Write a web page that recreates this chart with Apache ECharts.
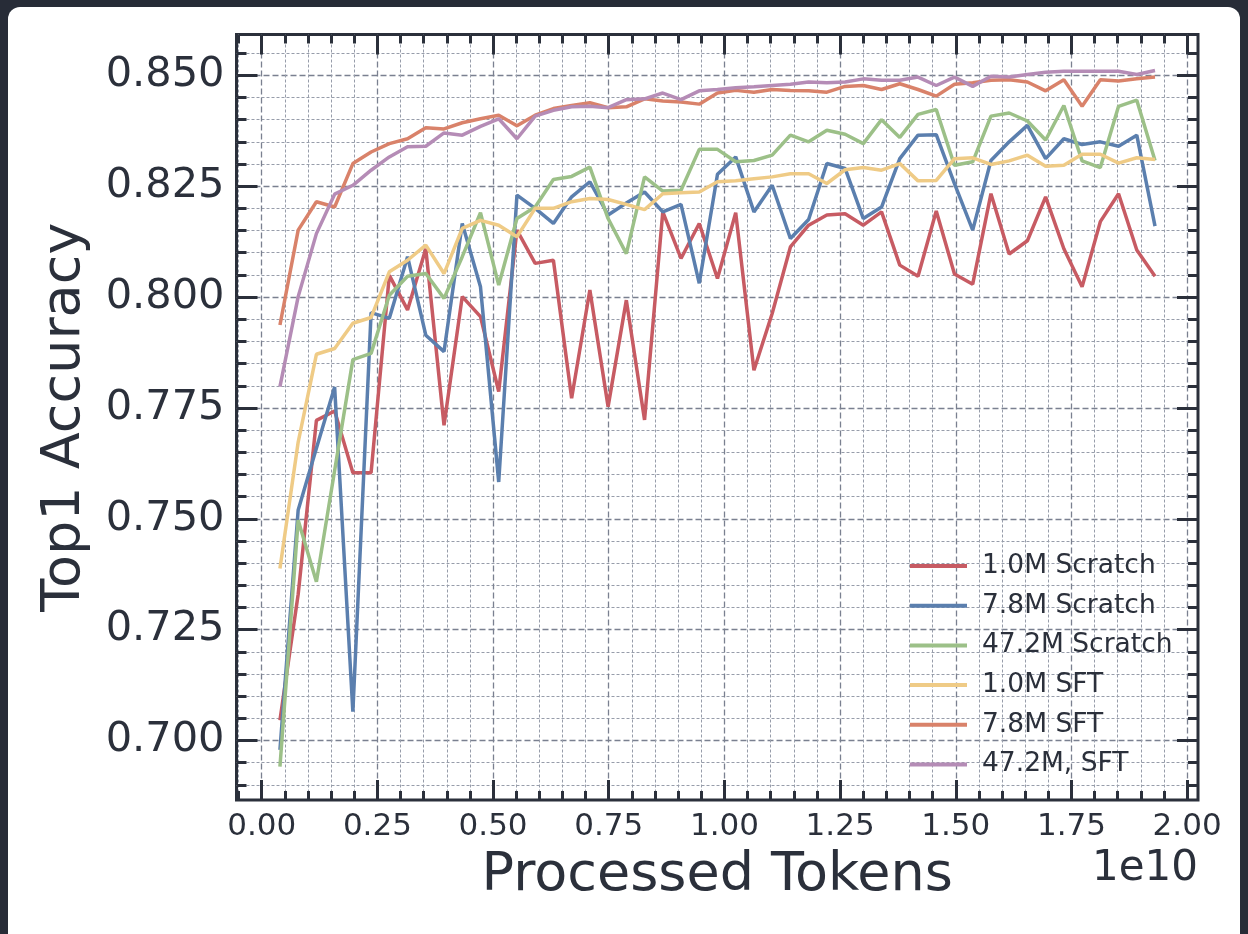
<!DOCTYPE html>
<html>
<head>
<meta charset="utf-8">
<script src="https://cdn.jsdelivr.net/npm/echarts@6/dist/echarts.min.js"></script>
<style>
  html, body { margin: 0; padding: 0; width: 1248px; height: 934px; overflow: hidden; background: #272c37; }
  #card { position: absolute; left: 8px; top: 7px; right: 8px; bottom: -20px; background: #ffffff; border-radius: 12px; }
  #chart { position: absolute; left: 0; top: 0; width: 1248px; height: 934px; }
</style>
</head>
<body>
<div id="card"></div>
<div id="chart"></div>
<script>
// Processed tokens (units of 1e10)
const tokens = [0.0394,0.0788,0.1182,0.1576,0.1970,0.2364,0.2758,0.3152,0.3546,0.3940,
  0.4334,0.4728,0.5122,0.5516,0.5910,0.6304,0.6698,0.7092,0.7486,0.7880,
  0.8274,0.8668,0.9062,0.9456,0.9850,1.0244,1.0638,1.1032,1.1426,1.1820,
  1.2214,1.2608,1.3002,1.3396,1.3790,1.4184,1.4578,1.4972,1.5366,1.5760,
  1.6154,1.6548,1.6942,1.7336,1.7730,1.8124,1.8518,1.8912,1.9306];

const scratch1M = [0.7046,0.7330,0.7722,0.7743,0.7604,0.7604,0.8049,0.7971,0.8109,0.7711,
  0.8001,0.7956,0.7787,0.8151,0.8076,0.8083,0.7772,0.8016,0.7753,0.7993,
  0.7723,0.8192,0.8087,0.8166,0.8042,0.8190,0.7835,0.7963,0.8113,0.8162,
  0.8185,0.8188,0.8162,0.8192,0.8072,0.8047,0.8194,0.8052,0.8029,0.8233,
  0.8097,0.8127,0.8226,0.8109,0.8023,0.8170,0.8233,0.8106,0.8047];

const scratch7M = [0.6979,0.7520,0.7659,0.7797,0.7065,0.7965,0.7952,0.8091,0.7914,0.7877,
  0.8166,0.8023,0.7583,0.8230,0.8200,0.8166,0.8226,0.8260,0.8185,0.8212,
  0.8237,0.8192,0.8209,0.8031,0.8277,0.8316,0.8192,0.8252,0.8132,0.8175,
  0.8301,0.8290,0.8177,0.8203,0.8312,0.8365,0.8366,0.8256,0.8151,0.8308,
  0.8350,0.8387,0.8312,0.8357,0.8344,0.8350,0.8340,0.8365,0.8160];

const scratch47M = [0.6941,0.7497,0.7358,0.7609,0.7859,0.7873,0.8004,0.8047,0.8053,0.7997,
  0.8091,0.8190,0.8027,0.8177,0.8203,0.8265,0.8272,0.8293,0.8177,0.8098,
  0.8271,0.8239,0.8241,0.8333,0.8333,0.8305,0.8308,0.8320,0.8365,0.8350,
  0.8376,0.8367,0.8346,0.8400,0.8360,0.8412,0.8423,0.8297,0.8305,0.8408,
  0.8415,0.8397,0.8354,0.8432,0.8307,0.8292,0.8430,0.8444,0.8308];

const sft1M = [0.7388,0.7673,0.7871,0.7884,0.7941,0.7954,0.8057,0.8083,0.8117,0.8053,
  0.8155,0.8173,0.8162,0.8136,0.8200,0.8200,0.8215,0.8222,0.8220,0.8209,
  0.8197,0.8233,0.8235,0.8237,0.8260,0.8262,0.8267,0.8271,0.8278,0.8278,
  0.8256,0.8287,0.8292,0.8286,0.8301,0.8262,0.8263,0.8312,0.8314,0.8299,
  0.8307,0.8320,0.8295,0.8297,0.8322,0.8322,0.8302,0.8314,0.8310];

const sft7M = [0.7937,0.8151,0.8215,0.8203,0.8301,0.8327,0.8346,0.8357,0.8382,0.8379,
  0.8393,0.8402,0.8410,0.8386,0.8410,0.8425,0.8432,0.8438,0.8427,0.8429,
  0.8447,0.8442,0.8440,0.8435,0.8460,0.8466,0.8462,0.8468,0.8466,0.8465,
  0.8462,0.8475,0.8477,0.8468,0.8481,0.8468,0.8453,0.8480,0.8483,0.8489,
  0.8490,0.8485,0.8465,0.8490,0.8430,0.8490,0.8487,0.8492,0.8496];

const sft47M = [0.7798,0.8001,0.8143,0.8232,0.8252,0.8286,0.8316,0.8339,0.8340,0.8370,
  0.8365,0.8385,0.8402,0.8357,0.8408,0.8421,0.8429,0.8430,0.8427,0.8445,
  0.8447,0.8460,0.8445,0.8465,0.8468,0.8472,0.8474,0.8477,0.8480,0.8485,
  0.8483,0.8485,0.8492,0.8489,0.8489,0.8496,0.8477,0.8496,0.8475,0.8498,
  0.8496,0.8502,0.8507,0.8509,0.8509,0.8509,0.8509,0.8502,0.8511];

const seriesNames = ['1.0M Scratch','7.8M Scratch','47.2M Scratch','1.0M SFT','7.8M SFT','47.2M, SFT'];
const seriesValues = [scratch1M, scratch7M, scratch47M, sft1M, sft7M, sft47M];
const seriesColors = ['#c75b63','#5b7fae','#9cc088','#efcb86','#d9826a','#b58cb6'];

const xMajorTicks = [0, 0.25, 0.5, 0.75, 1.0, 1.25, 1.5, 1.75, 2.0];
const xMinorTicks = [-0.05,0.05,0.1,0.15,0.2,0.3,0.35,0.4,0.45,0.55,0.6,0.65,0.7,0.8,0.85,0.9,0.95,
  1.05,1.1,1.15,1.2,1.3,1.35,1.4,1.45,1.55,1.6,1.65,1.7,1.8,1.85,1.9,1.95];
const yMajorTicks = [0.700, 0.725, 0.750, 0.775, 0.800, 0.825, 0.850];
const yMinorTicks = [0.690,0.695,0.705,0.710,0.715,0.720,0.730,0.735,0.740,0.745,0.755,0.760,0.765,0.770,
  0.780,0.785,0.790,0.795,0.805,0.810,0.815,0.820,0.830,0.835,0.840,0.845,0.855];

const X_MIN = -0.0545, X_MAX = 2.0235, Y_MIN = 0.6866, Y_MAX = 0.8592;
const DARK = '#2b303b';
const FONT = 'DejaVu Sans';
const majorGrid = { show: true, lineStyle: { color: '#7a8090', width: 1.3, type: [6, 3] } };
const minorGrid = { show: true, lineStyle: { color: '#979daa', width: 1, type: [3, 2] } };

function xAxisDef(pos, ticks, len, labels, split) {
  return {
    type: 'value', position: pos, min: X_MIN, max: X_MAX,
    axisLine: { show: false, onZero: false },
    axisTick: { show: true, inside: true, length: len, customValues: ticks, lineStyle: { color: DARK, width: 3 } },
    axisLabel: labels ? { show: true, customValues: ticks, margin: 11, fontFamily: FONT, fontSize: 31, color: DARK,
      formatter: v => v.toFixed(2) } : { show: false },
    splitLine: split || { show: false },
    name: labels ? 'Processed Tokens' : '',
    nameLocation: 'middle', nameGap: 49,
    nameTextStyle: { fontFamily: FONT, fontSize: 54, color: DARK }
  };
}
function yAxisDef(pos, ticks, len, labels, split) {
  return {
    type: 'value', position: pos, min: Y_MIN, max: Y_MAX,
    axisLine: { show: false, onZero: false },
    axisTick: { show: true, inside: true, length: len, customValues: ticks, lineStyle: { color: DARK, width: 3 } },
    axisLabel: labels ? { show: true, customValues: ticks, margin: 12, fontFamily: FONT, fontSize: 41.5, color: DARK,
      formatter: v => v.toFixed(3) } : { show: false },
    splitLine: split || { show: false },
    name: labels ? 'Top1 Accuracy' : '',
    nameLocation: 'middle', nameGap: 145, nameRotate: 90,
    nameTextStyle: { fontFamily: FONT, fontSize: 54, color: DARK }
  };
}

const chart = echarts.init(document.getElementById('chart'), null, { renderer: 'canvas' });
chart.setOption({
  animation: false,
  backgroundColor: 'transparent',
  grid: { left: 236.5, right: 50, top: 34.5, bottom: 134, show: true, borderColor: DARK, borderWidth: 3, backgroundColor: 'transparent' },
  xAxis: [
    xAxisDef('bottom', xMajorTicks, 20, true, majorGrid),
    xAxisDef('bottom', xMinorTicks, 9, false, minorGrid),
    xAxisDef('top', xMajorTicks, 20, false, null),
    xAxisDef('top', xMinorTicks, 9, false, null)
  ],
  yAxis: [
    yAxisDef('left', yMajorTicks, 21, true, majorGrid),
    yAxisDef('left', yMinorTicks, 10, false, minorGrid),
    yAxisDef('right', yMajorTicks, 21, false, null),
    yAxisDef('right', yMinorTicks, 10, false, null)
  ],
  legend: {
    left: 905, top: 546, orient: 'vertical',
    icon: 'rect', itemWidth: 57, itemHeight: 4, itemGap: 9.7,
    textStyle: { fontFamily: FONT, fontSize: 26.5, color: DARK, lineHeight: 30, padding: [0, 0, 0, 10] },
    data: seriesNames
  },
  graphic: [{
    type: 'text', right: 50, top: 848,
    style: { text: '1e10', font: '42px "DejaVu Sans"', fill: DARK }
  }],
  series: seriesNames.map((name, i) => ({
    name: name, type: 'line', xAxisIndex: 0, yAxisIndex: 0,
    data: tokens.map((t, j) => [t, seriesValues[i][j]]),
    showSymbol: false, symbol: 'none',
    lineStyle: { color: seriesColors[i], width: 3.5 },
    itemStyle: { color: seriesColors[i] },
    z: 5 + i
  }))
});
</script>
</body>
</html>
